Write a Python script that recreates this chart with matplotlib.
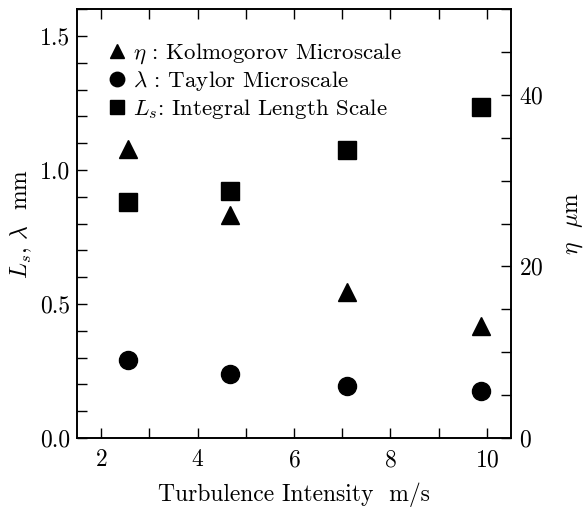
import matplotlib
matplotlib.use('Agg')
import matplotlib.pyplot as plt
from matplotlib.ticker import MultipleLocator

plt.rcParams['font.family'] = ['cmr10', 'DejaVu Serif']
plt.rcParams['mathtext.fontset'] = 'cm'
plt.rcParams['axes.formatter.use_mathtext'] = True

# turbulence intensity (m/s)
intensity = [2.56, 4.68, 7.09, 9.88]
# integral length scale Ls (mm)
ls_mm = [0.88, 0.92, 1.075, 1.235]
# Taylor microscale lambda (mm)
taylor_mm = [0.29, 0.24, 0.194, 0.175]
# Kolmogorov microscale eta (um)
kolmo_um = [33.7, 26.0, 17.0, 13.1]

fig = plt.figure(figsize=(5.88, 5.11), dpi=100)
ax = fig.add_axes([0.131, 0.143, 0.738, 0.839])
ax2 = ax.twinx()

ms = 13
h_sq, = ax.plot(intensity, ls_mm, 's', color='black', markersize=ms, linestyle='none')
h_ci, = ax.plot(intensity, taylor_mm, 'o', color='black', markersize=ms, linestyle='none')
h_tr, = ax2.plot(intensity, kolmo_um, '^', color='black', markersize=ms, linestyle='none')

ax.set_xlim(1.5, 10.5)
ax.set_ylim(0, 1.6)
ax2.set_ylim(0, 50)

ax.xaxis.set_major_locator(MultipleLocator(2))
ax.xaxis.set_minor_locator(MultipleLocator(1))
ax.yaxis.set_major_locator(MultipleLocator(0.5))
ax.yaxis.set_minor_locator(MultipleLocator(0.1))
ax2.yaxis.set_major_locator(MultipleLocator(20))
ax2.yaxis.set_minor_locator(MultipleLocator(5))

ax.yaxis.set_major_formatter(matplotlib.ticker.FormatStrFormatter('%.1f'))

fs = 17
ax.tick_params(axis='x', which='both', direction='in', top=True, labelsize=fs, pad=8)
ax.tick_params(axis='y', which='both', direction='in', right=False, labelsize=fs, pad=5)
ax.tick_params(which='major', length=7, width=1)
ax.tick_params(which='minor', length=7, width=1)
ax2.tick_params(axis='y', which='both', direction='in', labelsize=fs, length=7, width=1, pad=6)

for a in (ax, ax2):
    for s in a.spines.values():
        s.set_linewidth(1.2)

ax.set_xlabel('Turbulence Intensity  m/s', fontsize=fs, labelpad=8)
ax.set_ylabel(r'$L_s$, $\lambda$  mm', fontsize=fs, labelpad=4)
ax2.set_ylabel(r'$\eta$  $\mu$m', fontsize=fs, rotation=90, labelpad=14)

lgd = ax.legend([h_tr, h_ci, h_sq],
                [r'$\eta$ : Kolmogorov Microscale',
                 r'$\lambda$ : Taylor Microscale',
                 r'$L_s$: Integral Length Scale'],
                loc='upper left', frameon=False, fontsize=16.5,
                markerscale=0.8, handlelength=0.7, handletextpad=0.35,
                labelspacing=0.15, borderaxespad=1.0)

plt.savefig('out.png', dpi=100)
